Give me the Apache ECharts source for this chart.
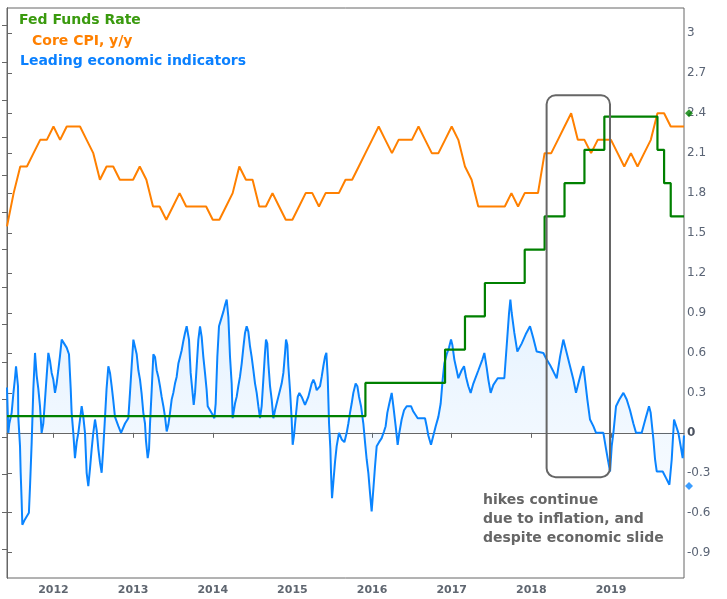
<!DOCTYPE html>
<html><head><meta charset="utf-8">
<script src="https://cdn.jsdelivr.net/npm/echarts@6.0.0/dist/echarts.min.js"></script>
<style>html,body{margin:0;padding:0;background:#fff}#c{width:727px;height:599px}</style>
</head><body><div id="c"></div>
<script>
// Monthly observations, index 0 = June 2011 ... index 102 = December 2019
const yearTicks = [2012, 2013, 2014, 2015, 2016, 2017, 2018, 2019];
const rightTicks = [-0.9, -0.6, -0.3, 0, 0.3, 0.6, 0.9, 1.2, 1.5, 1.8, 2.1, 2.4, 2.7, 3];
const leftTicks = [0.766, 1.766, 2.766, 3.766, 4.766, 5.766, 6.766, 7.766, 8.766, 9.766, 10.766, 11.766, 12.766, 13.766, 14.766];

const coreCPI = [
 1.55,1.8,2.0,2.0,2.1,2.2,2.2,2.3,2.2,2.3,
 2.3,2.3,2.2,2.1,1.9,2.0,2.0,1.9,1.9,1.9,
 2.0,1.9,1.7,1.7,1.6,1.7,1.8,1.7,1.7,1.7,
 1.7,1.6,1.6,1.7,1.8,2.0,1.9,1.9,1.7,1.7,
 1.8,1.7,1.6,1.6,1.7,1.8,1.8,1.7,1.8,1.8,
 1.8,1.9,1.9,2.0,2.1,2.2,2.3,2.2,2.1,2.2,
 2.2,2.2,2.3,2.2,2.1,2.1,2.2,2.3,2.2,2.0,
 1.9,1.7,1.7,1.7,1.7,1.7,1.8,1.7,1.8,1.8,
 1.8,2.1,2.1,2.2,2.3,2.4,2.2,2.2,2.1,2.2,
 2.2,2.2,2.1,2.0,2.1,2.0,2.1,2.2,2.4,2.4,
 2.3,2.3,2.3
];

const fedFunds = [
 0.125,0.125,0.125,0.125,0.125,0.125,0.125,0.125,0.125,0.125,
 0.125,0.125,0.125,0.125,0.125,0.125,0.125,0.125,0.125,0.125,
 0.125,0.125,0.125,0.125,0.125,0.125,0.125,0.125,0.125,0.125,
 0.125,0.125,0.125,0.125,0.125,0.125,0.125,0.125,0.125,0.125,
 0.125,0.125,0.125,0.125,0.125,0.125,0.125,0.125,0.125,0.125,
 0.125,0.125,0.125,0.125,0.375,0.375,0.375,0.375,0.375,0.375,
 0.375,0.375,0.375,0.375,0.375,0.375,0.625,0.625,0.625,0.875,
 0.875,0.875,1.125,1.125,1.125,1.125,1.125,1.125,1.375,1.375,
 1.375,1.625,1.625,1.625,1.875,1.875,1.875,2.125,2.125,2.125,
 2.375,2.375,2.375,2.375,2.375,2.375,2.375,2.375,2.125,1.875,
 1.625,1.625,1.625
];

const leiMonth = [
 0,0.2,0.35,0.7,0.95,1.2,1.36,1.56,1.66,1.7,1.96,2.06,2.2,2.31,2.7,3.3,3.47,3.72,3.97,4.22,4.37,4.47,4.72,4.97,5.22,5.47,5.73,5.98,6.23,6.48,6.73,6.98,7.23,7.48,7.73,7.99,8.24,8.49,8.99,9.34,9.6,9.74,9.99,10.24,10.5,10.75,11.0,11.25,11.5,11.75,12.0,12.25,12.5,12.76,13.0,13.26,13.51,13.76,14.0,14.26,14.5,14.77,15.0,15.27,15.52,15.77,16.0,16.27,16.78,17.18,17.78,
 18.28,18.53,18.78,19.04,19.29,19.54,19.79,20.04,20.29,20.54,20.79,20.94,21.2,21.4,21.55,21.8,22.05,22.3,22.55,22.8,23.05,23.3,23.56,23.81,24.06,24.31,24.56,24.81,25.06,25.31,25.56,25.82,26.07,26.32,26.57,26.82,27.07,27.22,27.42,27.67,27.92,28.13,28.33,28.58,28.83,29.08,29.33,29.58,29.83,30.08,30.24,30.59,30.94,31.24,31.44,31.69,31.94,32.24,32.6,32.85,33.1,33.35,33.6,33.85,34.0,34.35,34.6,34.85,35.1,35.36,35.61,35.86,36.11,
 36.36,36.61,36.86,37.12,37.37,37.62,37.87,38.12,38.37,38.62,38.87,39.02,39.22,39.38,39.63,39.88,40.13,40.38,40.63,40.88,41.13,41.38,41.64,41.89,42.04,42.24,42.39,42.64,42.89,43.04,43.24,43.5,43.8,44.05,44.4,44.9,45.15,45.4,45.65,45.9,46.16,46.41,46.66,46.91,47.16,47.41,47.66,47.91,48.12,48.32,48.52,48.72,48.82,48.97,49.17,49.42,49.67,50.02,50.43,50.83,51.18,51.43,51.68,51.93,52.18,52.53,52.79,53.04,53.34,53.69,53.94,
 54.19,54.44,54.69,54.94,55.2,55.45,55.7,56.05,56.45,56.8,57.05,57.3,57.6,57.96,58.21,58.56,58.86,59.11,59.46,59.82,60.22,60.87,61.22,61.88,62.98,63.23,63.48,63.88,64.24,64.59,64.99,65.34,65.64,65.89,66.25,66.6,66.9,67.1,67.4,67.75,68.0,68.5,68.86,69.16,69.51,69.86,70.26,71.02,71.62,71.92,
 72.27,72.52,72.87,73.28,73.93,74.93,75.28,75.64,75.84,76.04,76.44,76.89,77.54,78.15,78.8,79.3,79.8,80.81,81.21,81.81,82.32,82.82,83.32,83.82,84.33,84.83,85.33,85.73,86.08,86.59,86.84,87.09,87.44,87.84,88.34,88.75,89.85,
 90.25,90.6,90.86,91.11,91.36,91.76,92.26,92.87,93.37,93.87,94.37,94.77,95.63,96.28,96.73,96.98,97.39,97.64,97.89,98.79,99.3,99.8,100.15,100.5,100.8,101.15,101.5,101.8,102
];
const leiValue = [
 0.34,0.0,0.07,0.15,0.29,0.41,0.5,0.5,0.35,0.12,-0.1,-0.3,-0.5,-0.69,-0.65,-0.6,-0.4,-0.07,0.33,0.6,0.59,0.43,0.33,0.2,0.0,0.07,0.25,0.43,0.6,0.54,0.45,0.4,0.3,0.37,0.47,0.58,0.7,0.69,0.64,0.59,0.33,0.15,0.0,-0.19,-0.07,0.0,0.1,0.2,0.12,0.0,-0.3,-0.4,-0.27,-0.12,0.0,0.1,0.02,-0.12,-0.22,-0.3,-0.12,0.12,0.33,0.5,0.45,0.35,0.25,0.12,0.05,0.0,0.07,
 0.11,0.3,0.5,0.7,0.69,0.59,0.47,0.4,0.29,0.15,0.07,-0.06,-0.19,-0.12,0.07,0.32,0.59,0.57,0.47,0.42,0.35,0.27,0.2,0.12,0.01,0.06,0.15,0.25,0.3,0.37,0.42,0.52,0.57,0.62,0.69,0.75,0.8,0.79,0.7,0.45,0.32,0.21,0.3,0.5,0.7,0.8,0.72,0.57,0.45,0.32,0.2,0.17,0.14,0.11,0.22,0.57,0.8,0.85,0.91,0.96,1.0,0.87,0.57,0.37,0.11,0.22,0.27,0.35,0.42,0.52,0.64,0.75,0.8,
 0.76,0.65,0.57,0.47,0.37,0.3,0.2,0.11,0.2,0.4,0.6,0.7,0.67,0.52,0.35,0.25,0.11,0.17,0.22,0.27,0.32,0.37,0.45,0.6,0.7,0.66,0.5,0.32,0.1,-0.09,-0.02,0.12,0.27,0.3,0.27,0.21,0.22,0.27,0.32,0.37,0.4,0.37,0.32,0.31,0.35,0.42,0.5,0.57,0.6,0.42,0.07,-0.12,-0.3,-0.49,-0.37,-0.22,-0.1,0.0,-0.05,-0.07,0.0,0.07,0.15,0.22,0.3,0.37,0.35,0.27,0.2,0.07,-0.07,
 -0.2,-0.3,-0.45,-0.59,-0.42,-0.25,-0.1,-0.07,-0.04,0.01,0.05,0.15,0.22,0.3,0.2,0.05,-0.09,0.0,0.1,0.17,0.2,0.2,0.16,0.11,0.11,0.05,-0.02,-0.09,-0.02,0.05,0.12,0.22,0.4,0.52,0.59,0.64,0.7,0.66,0.55,0.47,0.41,0.47,0.5,0.42,0.35,0.3,0.37,0.47,0.55,0.6,
 0.49,0.4,0.3,0.36,0.41,0.41,0.65,0.9,1.0,0.9,0.75,0.61,0.67,0.74,0.8,0.71,0.61,0.6,0.56,0.51,0.46,0.41,0.57,0.7,0.6,0.5,0.4,0.3,0.37,0.47,0.5,0.4,0.25,0.1,0.05,0.0,0.0,
 -0.12,-0.22,-0.29,-0.1,0.0,0.2,0.25,0.3,0.25,0.17,0.07,0.0,0.0,0.12,0.2,0.15,-0.05,-0.2,-0.29,-0.29,-0.34,-0.39,-0.2,0.1,0.1,0.0,-0.1,-0.19,-0.02
];

// axis-edge markers on the right
const markerValues = [2.4, -0.4];
const markerColors = ['#008000', '#0a84ff'];
// annotation box, in data units (months, value)
const boxMonths = [81.3, 90.85];
const boxValues = [2.535, -0.333];

const monthOf = (y) => (y - 2011) * 12 - 5;
const chart = echarts.init(document.getElementById('c'), null, {renderer: 'canvas'});
const FONT = '"DejaVu Sans", Verdana, sans-serif';

chart.setOption({
  animation: false,
  backgroundColor: '#fff',
  grid: {left: 7, right: 43, top: 8, bottom: 21, show: true, borderColor: '#666', borderWidth: 1, backgroundColor: 'transparent'},
  xAxis: {
    type: 'value', min: 0, max: 102,
    axisLine: {lineStyle: {color: '#666', width: 1}},
    axisTick: {show: true, length: 5, lineStyle: {color: '#666'}, customValues: yearTicks.map(monthOf)},
    axisLabel: {customValues: yearTicks.map(monthOf), formatter: v => String(Math.round(2011 + (v + 5) / 12)),
      color: '#5f6670', fontSize: 11, fontWeight: 'bold', fontFamily: FONT, margin: 7},
    splitLine: {show: false}
  },
  yAxis: [{
    type: 'value', position: 'right', min: -1.09, max: 3.19,
    axisLine: {show: true, lineStyle: {color: '#666'}},
    axisTick: {show: true, length: 5, lineStyle: {color: '#666'}, customValues: rightTicks},
    axisLabel: {customValues: rightTicks, color: '#5a6475', fontSize: 12, fontFamily: FONT, margin: 3,
      formatter: v => Math.abs(v) < 1e-9 ? '{b|0}' : String(v),
      rich: {b: {fontWeight: 'bold', color: '#4a5260', fontSize: 12, fontFamily: FONT}}},
    splitLine: {show: false}
  }, {
    type: 'value', position: 'left', min: 0, max: 15.22,
    axisLine: {show: true, lineStyle: {color: '#666'}},
    axisTick: {show: true, length: 5, lineStyle: {color: '#666'}, customValues: leftTicks},
    axisLabel: {show: false},
    splitLine: {show: false}
  }],
  series: [{
    name: 'Leading economic indicators', type: 'line', yAxisIndex: 0,
    data: leiMonth.map((m, i) => [m, leiValue[i]]),
    showSymbol: false, lineStyle: {color: '#0a84ff', width: 2}, itemStyle: {color: '#0a84ff'},
    areaStyle: {origin: 0, color: new echarts.graphic.LinearGradient(0, 0, 0, 1, [
      {offset: 0, color: 'rgba(10,132,255,0.15)'}, {offset: 1, color: 'rgba(10,132,255,0.03)'}])},
    z: 2
  }, {
    name: 'Core CPI, y/y', type: 'line', yAxisIndex: 0,
    data: coreCPI.map((v, i) => [i, v]),
    showSymbol: false, lineStyle: {color: '#ff8000', width: 2}, itemStyle: {color: '#ff8000'}, z: 3
  }, {
    name: 'Fed Funds Rate', type: 'line', yAxisIndex: 0, step: 'end',
    data: fedFunds.map((v, i) => [i, v]),
    showSymbol: false, lineStyle: {color: '#008000', width: 2.2}, itemStyle: {color: '#008000'}, z: 4
  }, {
    type: 'scatter', yAxisIndex: 0, symbol: 'diamond', symbolSize: 8, symbolOffset: [5, 0], clip: false,
    data: markerValues.map((v, i) => ({value: [102, v], itemStyle: {color: markerColors[i]}})), z: 5
  }]
});

const p1 = chart.convertToPixel({xAxisIndex: 0, yAxisIndex: 0}, [boxMonths[0], boxValues[0]]);
const p2 = chart.convertToPixel({xAxisIndex: 0, yAxisIndex: 0}, [boxMonths[1], boxValues[1]]);

chart.setOption({
  graphic: [
    {type: 'text', left: 19, top: 13, style: {text: 'Fed Funds Rate', fill: '#3a9a0e', font: 'bold 14px ' + FONT}},
    {type: 'text', left: 32, top: 34, style: {text: 'Core CPI, y/y', fill: '#ff8000', font: 'bold 14px ' + FONT}},
    {type: 'text', left: 20, top: 54, style: {text: 'Leading economic indicators', fill: '#0a80ff', font: 'bold 14px ' + FONT}},
    {type: 'rect', shape: {x: p1[0], y: p1[1], width: p2[0] - p1[0], height: p2[1] - p1[1], r: 9},
      style: {fill: 'none', stroke: '#666', lineWidth: 2}, z: 10},
    {type: 'text', left: 483, top: 491, style: {text: 'hikes continue\ndue to inflation, and\ndespite economic slide',
      fill: '#666', font: 'bold 14px ' + FONT, lineHeight: 19}, z: 10}
  ]
});
</script></body></html>
